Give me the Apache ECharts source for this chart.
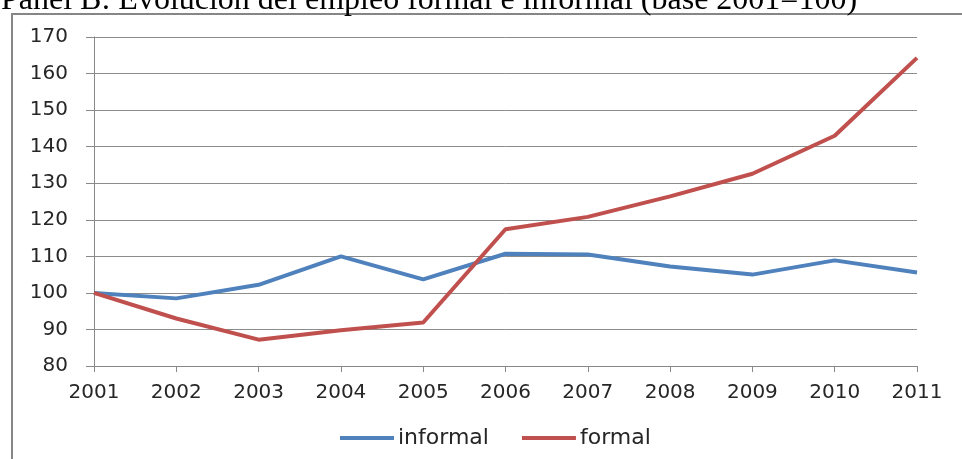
<!DOCTYPE html>
<html>
<head>
<meta charset="utf-8">
<script src="https://cdn.jsdelivr.net/npm/echarts@6/dist/echarts.min.js"></script>
<style>
html,body{margin:0;padding:0;background:#fff;}
#chart{width:962px;height:459px;}
</style>
</head>
<body>
<div id="chart"></div>
<script>
const titleText = 'Panel B: Evolución del empleo formal e informal (base 2001=100)';
const years = ['2001','2002','2003','2004','2005','2006','2007','2008','2009','2010','2011'];
const informal = [100, 98.5, 102.2, 110.0, 103.7, 110.7, 110.5, 107.2, 105.0, 108.9, 105.6];
const formal = [100, 93.0, 87.2, 89.8, 91.9, 117.4, 120.8, 126.4, 132.6, 143.0, 164.3];
const seriesNames = ['informal', 'formal'];

const chart = echarts.init(document.getElementById('chart'), null, {renderer: 'canvas'});
const axisFont = {fontFamily: 'DejaVu Sans', fontSize: 20, color: '#262626'};
chart.setOption({
  animation: false,
  backgroundColor: '#fff',
  graphic: [
    {type: 'rect', shape: {x: 12, y: 14, width: 980, height: 480},
     style: {fill: 'none', stroke: '#868686', lineWidth: 2}, silent: true},
    {type: 'text', x: 1, y: -15,
     style: {text: titleText, font: '32px "Liberation Serif"', fill: '#000'}, silent: true}
  ],
  grid: {left: 94, right: 45, top: 37, bottom: 93, containLabel: false},
  legend: {
    data: seriesNames,
    bottom: 10,
    left: 340,
    icon: 'rect',
    itemWidth: 54,
    itemHeight: 4,
    itemGap: 33,
    padding: 0,
    textStyle: {fontFamily: 'DejaVu Sans', fontSize: 22, color: '#262626', padding: [0,0,0,-1]}
  },
  xAxis: {
    type: 'category',
    data: years,
    boundaryGap: false,
    axisLine: {show: true, lineStyle: {color: '#888', width: 1}},
    axisTick: {show: true, length: 6, alignWithLabel: true, lineStyle: {color: '#888'}},
    axisLabel: Object.assign({margin: 17}, axisFont),
    splitLine: {show: false}
  },
  yAxis: {
    type: 'value',
    min: 80, max: 170, interval: 10,
    axisLine: {show: true, lineStyle: {color: '#888', width: 1}},
    axisTick: {show: true, length: 8, lineStyle: {color: '#888'}},
    axisLabel: Object.assign({margin: 26}, axisFont),
    splitLine: {show: true, lineStyle: {color: '#8c8c8c', width: 1}}
  },
  series: [
    {name: seriesNames[0], type: 'line', data: informal, symbol: 'none',
     lineStyle: {color: '#4F81BD', width: 4}, itemStyle: {color: '#4F81BD'}},
    {name: seriesNames[1], type: 'line', data: formal, symbol: 'none',
     lineStyle: {color: '#C0504D', width: 4}, itemStyle: {color: '#C0504D'}}
  ]
});
</script>
</body>
</html>
